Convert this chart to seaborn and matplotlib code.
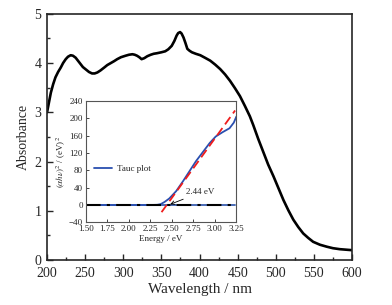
import numpy as np
import pandas as pd
import matplotlib
matplotlib.use('Agg')
import matplotlib.pyplot as plt
from matplotlib.ticker import MultipleLocator
import seaborn as sns

# Absorption spectrum
wavelength = [200, 201, 205, 208, 211, 214.5, 218, 221, 224.5, 227.5, 231, 234,
              237.5, 240.5, 244, 247, 251, 255, 259, 262.5, 266, 270, 275, 279,
              283.5, 288, 292, 297, 303, 307.5, 312, 315, 318, 321, 324, 327.5,
              331.5, 336, 340, 344, 350, 355, 359, 363.5, 367, 370, 372, 374.5,
              376.5, 379, 381.5, 384, 387, 390, 395, 401, 407, 414, 420.5, 427,
              433.5, 440, 446.5, 453, 459.5, 466, 470.5, 477, 484, 490, 497,
              503.5, 510, 516.5, 523, 529.5, 536, 542.5, 549, 558, 567, 575,
              584, 592, 600]
absorbance = [3.00, 3.08, 3.40, 3.57, 3.71, 3.82, 3.91, 4.00, 4.08, 4.13, 4.16,
              4.15, 4.11, 4.05, 3.98, 3.92, 3.87, 3.82, 3.79, 3.79, 3.81, 3.85,
              3.91, 3.96, 4.00, 4.04, 4.08, 4.12, 4.15, 4.17, 4.18, 4.17, 4.15,
              4.12, 4.08, 4.10, 4.14, 4.17, 4.19, 4.20, 4.22, 4.24, 4.28, 4.35,
              4.45, 4.56, 4.61, 4.63, 4.60, 4.52, 4.41, 4.29, 4.25, 4.22, 4.19,
              4.16, 4.11, 4.05, 3.97, 3.88, 3.77, 3.64, 3.49, 3.33, 3.13, 2.92,
              2.74, 2.46, 2.18, 1.94, 1.70, 1.46, 1.22, 1.01, 0.82, 0.67, 0.54,
              0.45, 0.37, 0.31, 0.27, 0.24, 0.22, 0.21, 0.20]

# Tauc plot (inset)
energy = [1.50, 1.75, 2.00, 2.25, 2.33, 2.37, 2.415, 2.47, 2.55, 2.63, 2.705,
          2.78, 2.86, 2.94, 3.01, 3.09, 3.17, 3.22, 3.25]
tauc = [0, 0, 0, 0, 0.5, 2, 7, 15, 32, 55, 78, 101, 122, 143, 158, 168, 177,
        190, 204]

# linear fit line and baseline
fit_energy = [2.38, 3.235]
fit_values = [-16.5, 218]
base_energy = [1.50, 3.23]
base_values = [0, 0]

sns.set_style('ticks')
plt.rcParams['font.family'] = ['Liberation Serif', 'DejaVu Serif']
plt.rcParams['mathtext.fontset'] = 'stix'

fig = plt.figure(figsize=(3.92, 3.05), dpi=100)
ax = fig.add_axes([0.120, 0.1475, 0.778, 0.807])

spec = pd.DataFrame({'wavelength': wavelength, 'absorbance': absorbance})
sns.lineplot(data=spec, x='wavelength', y='absorbance', color='black',
             linewidth=1.9, sort=False, estimator=None, ax=ax)
ax.set_xlim(200, 600)
ax.set_ylim(0, 5)
ax.xaxis.set_major_locator(MultipleLocator(50))
ax.xaxis.set_minor_locator(MultipleLocator(25))
ax.yaxis.set_major_locator(MultipleLocator(1))
ax.yaxis.set_minor_locator(MultipleLocator(0.5))
ax.tick_params(which='both', direction='in', top=False, right=False,
               labelsize=10, width=1.0)
ax.tick_params(which='major', length=4)
ax.tick_params(which='minor', length=2.5)
ax.tick_params(axis='x', pad=5)
ax.tick_params(axis='y', pad=4)
ax.set_xlabel('Wavelength / nm', fontsize=11, labelpad=2)
ax.set_ylabel('Absorbance', fontsize=10, labelpad=3)
for s in ax.spines.values():
    s.set_linewidth(1.2)
    s.set_visible(True)

# inset
ins = fig.add_axes([0.219, 0.271, 0.384, 0.398])
ins.plot(base_energy, base_values, color='#3a5fb0', linewidth=1.3)
tp = pd.DataFrame({'energy': energy, 'tauc': tauc})
sns.lineplot(data=tp, x='energy', y='tauc', color='#2a4fb0', linewidth=1.3,
             sort=False, estimator=None, ax=ins, label='Tauc plot')
ins.plot(fit_energy, fit_values, color='#ee1c1c', linewidth=1.3,
         linestyle=(0, (5, 2.5)))
ins.plot(base_energy, base_values, color='black', linewidth=1.5,
         linestyle=(0, (7, 3, 1.5, 3)))
ins.annotate('2.44 eV', xy=(2.48, 1.5), xytext=(2.67, 20),
             fontsize=6.5, va='bottom',
             arrowprops=dict(arrowstyle='->', color='black', lw=0.6,
                             shrinkA=0, shrinkB=0))
ins.set_xlim(1.5, 3.25)
ins.set_ylim(-40, 240)
ins.xaxis.set_major_locator(MultipleLocator(0.25))
ins.yaxis.set_major_locator(MultipleLocator(40))
ins.tick_params(direction='in', labelsize=6.5, length=2.5, width=0.6, pad=2)
ins.set_xticklabels(['%.2f' % v for v in ins.get_xticks()])
ins.set_xlim(1.5, 3.25)
ins.set_xlabel('Energy / eV', fontsize=6.5, labelpad=1)
ins.set_ylabel(r'$(\alpha h\nu)^2$ / (eV)$^2$', fontsize=6.5, labelpad=1)
for s in ins.spines.values():
    s.set_linewidth(0.8)
    s.set_color('#555555')
    s.set_visible(True)
leg = ins.legend(loc='center left', bbox_to_anchor=(0.0, 0.44), frameon=False,
                 fontsize=6.5, handlelength=2.0, handletextpad=0.6)

fig.savefig('out.png', dpi=100)
